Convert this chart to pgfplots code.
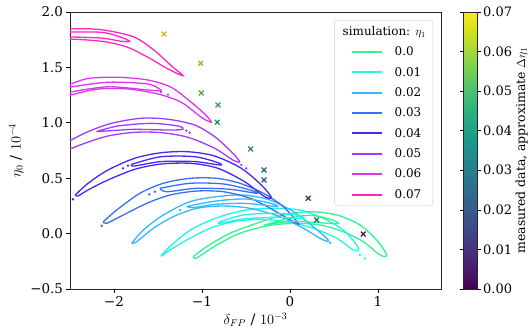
\documentclass[border=0pt]{standalone}
\usepackage{fontspec}
\setmainfont{DejaVu Serif}
\usepackage{pgfplots}
\pgfplotsset{compat=1.18}
\definecolor{c0}{RGB}{45,245,150}
\definecolor{c1}{RGB}{30,245,235}
\definecolor{c2}{RGB}{50,185,255}
\definecolor{c3}{RGB}{55,110,250}
\definecolor{c4}{RGB}{70,40,245}
\definecolor{c5}{RGB}{160,60,250}
\definecolor{c6}{RGB}{225,50,240}
\definecolor{c7}{RGB}{255,40,190}
\pgfplotsset{cont/.style={smooth, tension=0.5, line width=1.3bp},
  dots/.style={only marks, mark=*, mark size=1bp, forget plot}}
\begin{document}
\begin{tikzpicture}
\useasboundingbox (-70bp,-42bp) rectangle (462bp,289bp);
\begin{axis}[name=ax, at={(0,0)}, anchor=south west, scale only axis, width=371bp, height=277bp,
  xmin=-2.5, xmax=1.716, ymin=-0.5, ymax=2.0,
  xtick={-2,-1,0,1}, xticklabels={−2,−1,0,1},
  ytick={-0.5,0,0.5,1,1.5,2}, yticklabels={−0.5,0.0,0.5,1.0,1.5,2.0},
  tick pos=left, tick align=outside, major tick length=3.5bp,
  major tick style={black, line width=0.6bp},
  axis line style={line width=0.7bp, black!85},
  ticklabel style={font=\fontsize{13.5}{15}\selectfont},
  label style={font=\fontsize{14.5}{16}\selectfont},
  xlabel={$\delta_{FP}$ / $10^{-3}$}, ylabel={$\eta_0$ / $10^{-4}$},
  colormap/viridis, point meta min=0, point meta max=0.07,
  colorbar, colorbar shift/.style={xshift=22bp},
  colorbar style={width=14bp, at={(parent axis.north east)}, anchor=north west,
    scaled y ticks=false,
    ytick={0,0.01,0.02,0.03,0.04,0.05,0.06,0.07},
    yticklabels={0.00,0.01,0.02,0.03,0.04,0.05,0.06,0.07},
    yticklabel pos=right, ylabel near ticks,
    ylabel={measured data, approximate $\Delta\eta_1$},
    tick align=outside, major tick length=3.5bp,
    ytick style={black, line width=0.6bp},
    axis line style={line width=0.7bp, black!85},
    yticklabel style={font=\fontsize{13}{15}\selectfont, inner xsep=2.5bp},
    ylabel style={font=\fontsize{12.5}{14}\selectfont, inner sep=1bp}},
  legend style={at={(1,1)}, anchor=north east, xshift=-8bp, yshift=-8bp,
    draw=black!20, rounded corners=2.5bp, fill=white, fill opacity=0.85, text opacity=1,
    font=\fontsize{12}{14}\selectfont, inner xsep=6bp, inner ysep=5bp,
    row sep=8bp, nodes={inner sep=1bp}},
  legend cell align=left,
  legend image code/.code={\path (0bp,0bp) (52bp,0bp); \draw[#1, line width=2bp] (11bp,0bp) -- (41bp,0bp);},
]
\addlegendimage{empty legend}
\addlegendentry{\hspace*{-52bp}simulation: $\eta_1$}

% eta1 = 0.0
\addplot[cont, c0] coordinates {(-1.099,-0.208) (-0.947,-0.118) (-0.682,0.003) (-0.378,0.093) (-0.076,0.168) (0.227,0.198) (0.531,0.168) (0.795,0.078) (0.985,-0.058) (1.099,-0.193) (1.023,-0.193) (0.833,-0.073) (0.606,0.017) (0.341,0.078) (0.038,0.093) (-0.265,0.069) (-0.568,0.003) (-0.833,-0.103) (-1.060,-0.220) (-1.099,-0.208)};
\addlegendentry{0.0}
% eta1 = 0.01
\addplot[cont, c1] coordinates {(-1.458,-0.193) (-1.326,-0.088) (-1.099,0.048) (-0.795,0.153) (-0.492,0.213) (-0.190,0.228) (0.114,0.213) (0.378,0.138) (0.606,0.032) (0.758,-0.103) (0.776,-0.148) (0.719,-0.148) (0.531,-0.042) (0.265,0.048) (-0.038,0.107) (-0.341,0.129) (-0.644,0.107) (-0.909,0.048) (-1.136,-0.042) (-1.364,-0.148) (-1.458,-0.202) (-1.458,-0.193)};
\addlegendentry{0.01}
% eta1 = 0.02
\addplot[cont, c2] coordinates {(-1.799,-0.088) (-1.667,0.032) (-1.440,0.168) (-1.136,0.288) (-0.833,0.333) (-0.531,0.348) (-0.227,0.303) (0.038,0.198) (0.265,0.062) (0.435,-0.058) (0.378,-0.058) (0.151,0.048) (-0.114,0.153) (-0.455,0.228) (-0.758,0.249) (-1.060,0.228) (-1.326,0.153) (-1.553,0.048) (-1.742,-0.073) (-1.799,-0.088)};
\addlegendentry{0.02}
% eta1 = 0.03
\addplot[cont, c3] coordinates {(-2.122,0.107) (-1.969,0.213) (-1.705,0.364) (-1.440,0.454) (-1.136,0.499) (-0.833,0.499) (-0.568,0.454) (-0.303,0.364) (-0.076,0.243) (0.094,0.093) (0.038,0.107) (-0.190,0.213) (-0.455,0.319) (-0.758,0.378) (-1.060,0.384) (-1.364,0.348) (-1.628,0.273) (-1.894,0.168) (-2.083,0.093) (-2.122,0.107)};
\addlegendentry{0.03}
% eta1 = 0.04
\addplot[cont, c4] coordinates {(-2.440,0.348) (-2.295,0.454) (-2.068,0.574) (-1.765,0.680) (-1.463,0.730) (-1.159,0.739) (-0.856,0.700) (-0.553,0.589) (-0.326,0.439) (-0.213,0.328) (-0.288,0.333) (-0.515,0.468) (-0.818,0.589) (-1.122,0.634) (-1.463,0.628) (-1.765,0.580) (-2.068,0.484) (-2.295,0.394) (-2.409,0.339) (-2.440,0.348)};
\addlegendentry{0.04}
% eta1 = 0.05
\addplot[cont, c5] coordinates {(-2.6,0.79) (-2.523,0.829) (-2.295,0.920) (-2.031,0.995) (-1.690,1.041) (-1.386,1.032) (-1.083,0.980) (-0.856,0.875) (-0.667,0.739) (-0.572,0.649) (-0.648,0.664) (-0.856,0.770) (-1.159,0.869) (-1.463,0.911) (-1.765,0.914) (-2.068,0.881) (-2.333,0.815) (-2.523,0.755) (-2.6,0.725)};
\addlegendentry{0.05}
% eta1 = 0.06
\addplot[cont, c6] coordinates {(-2.6,1.32) (-2.523,1.34) (-2.295,1.40) (-1.955,1.411) (-1.614,1.386) (-1.349,1.320) (-1.122,1.185) (-0.969,1.079) (-0.894,1.005) (-1.008,1.050) (-1.235,1.185) (-1.5,1.260) (-1.841,1.305) (-2.182,1.305) (-2.523,1.245) (-2.6,1.23)};
\addlegendentry{0.06}
% eta1 = 0.07
\addplot[cont, c7] coordinates {(-2.6,1.845) (-2.523,1.847) (-2.295,1.849) (-2.068,1.831) (-1.765,1.772) (-1.538,1.651) (-1.349,1.515) (-1.216,1.425) (-1.386,1.486) (-1.614,1.591) (-1.841,1.681) (-2.068,1.727) (-2.295,1.747) (-2.523,1.756) (-2.6,1.756)};
\addlegendentry{0.07}

% inner contour levels
\addplot[cont, c0, forget plot] coordinates {(-0.3,0.075) (0.0,0.14) (0.227,0.165) (0.455,0.13) (0.55,0.09) (0.3,0.1) (0.0,0.11) (-0.3,0.075)};
\addplot[cont, c1, forget plot] coordinates {(-0.795,0.107) (-0.531,0.168) (-0.190,0.183) (0.076,0.168) (0.151,0.138) (-0.190,0.147) (-0.531,0.132) (-0.795,0.093) (-0.795,0.107)};
\addplot[cont, c2, forget plot] coordinates {(-1.174,0.245) (-0.833,0.295) (-0.492,0.312) (-0.227,0.275) (-0.151,0.245) (-0.492,0.272) (-0.833,0.265) (-1.1,0.235) (-1.174,0.245)};
\addplot[cont, c3, forget plot] coordinates {(-1.477,0.409) (-1.136,0.454) (-0.758,0.448) (-0.455,0.394) (-0.378,0.364) (-0.682,0.400) (-1.060,0.409) (-1.401,0.378) (-1.477,0.409)};
\addplot[cont, c4, forget plot] coordinates {(-1.80,0.62) (-1.765,0.634) (-1.463,0.694) (-1.083,0.694) (-0.818,0.640) (-0.799,0.619) (-1.083,0.650) (-1.463,0.650) (-1.765,0.610) (-1.80,0.62)};
\addplot[cont, c5, forget plot] coordinates {(-2.201,0.920) (-1.955,0.971) (-1.576,0.995) (-1.273,0.971) (-1.216,0.941) (-1.386,0.935) (-1.765,0.941) (-2.031,0.929) (-2.201,0.920)};
\addplot[cont, c6, forget plot] coordinates {(-2.6,1.31) (-2.523,1.320) (-2.068,1.366) (-1.614,1.350) (-1.463,1.29) (-1.614,1.296) (-2.068,1.325) (-2.523,1.275) (-2.6,1.27)};
\addplot[cont, c7, forget plot] coordinates {(-2.6,1.817) (-2.148,1.817) (-1.920,1.772) (-1.822,1.736) (-1.920,1.736) (-2.148,1.765) (-2.6,1.777)};

% small isolated contour islands
\addplot[dots, c1] coordinates {(0.795,-0.193) (0.852,-0.223)};
\addplot[dots, c2] coordinates {(0.455,-0.082) (-1.25,0.213)};
\addplot[dots, c3] coordinates {(-2.14,0.07) (-1.534,0.378) (-1.599,0.355)};
\addplot[dots, c4] coordinates {(-2.466,0.31) (-1.841,0.613) (-1.898,0.589)};
\addplot[dots, c5] coordinates {(-1.178,0.929) (-1.140,0.911) (-0.553,0.619) (-0.497,0.589)};
\addplot[dots, c6] coordinates {(-1.466,1.278) (-1.386,1.254)};

% measured data
\addplot[scatter, only marks, mark=x, mark size=3.4bp, line width=1.2bp,
  point meta=explicit, forget plot] table[meta=c] {
x y c
-1.432 1.801 0.070
-1.015 1.537 0.063
-1.008 1.269 0.055
-0.818 1.161 0.049
-0.826 1.005 0.044
-0.447 0.764 0.039
-0.295 0.574 0.030
-0.295 0.484 0.026
0.208 0.319 0.014
0.303 0.123 0.025
0.833 -0.004 0.005
};
\end{axis}
\end{tikzpicture}
\end{document}
